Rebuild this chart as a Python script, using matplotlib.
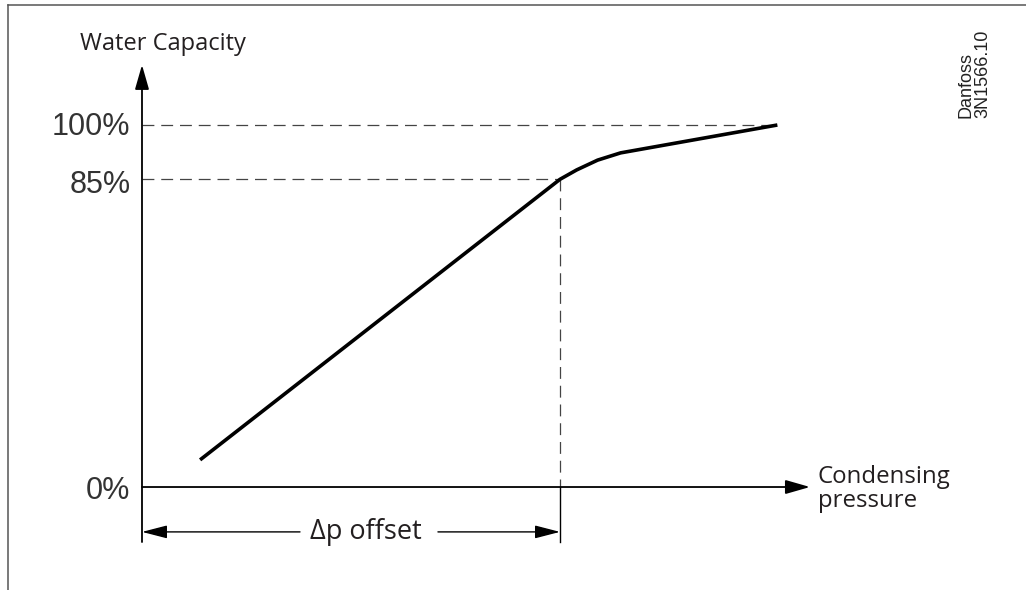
import matplotlib
matplotlib.use("Agg")
import matplotlib.pyplot as plt
from matplotlib.lines import Line2D

# curve data (x: pressure units, offset point = 100; y: water capacity %)
pressure = [13.9, 100, 104, 109, 114.5, 152]
capacity = [7.5, 85, 87.6, 90.3, 92.3, 100]

# reference levels
levels = [0, 85, 100]
level_labels = ["0%", "85%", "100%"]
offset_end = 100
axis_x_end = 159.8
axis_y_end = 116.6
dim_y = -12.4
axis_bottom = -15.2

fig = plt.figure(figsize=(10.26, 5.90), dpi=100)
ax = fig.add_axes([0, 0, 1, 1])
ax.set_xlim(-33.97, 211.48)
ax.set_ylim(-28.45, 134.53)
ax.axis("off")

txt = "#231f20"
sans = ["Open Sans", "DejaVu Sans"]

# frame (top and left edges)
fig.add_artist(Line2D([8/1026, 1], [1 - 5/590, 1 - 5/590], transform=fig.transFigure, color="#555555", lw=1.1))
fig.add_artist(Line2D([8/1026, 8/1026], [0, 1 - 5/590], transform=fig.transFigure, color="#555555", lw=1.1))

# axes with arrows
arrow_kw = dict(arrowstyle="-|>,head_length=15,head_width=4.3", color="black", lw=1.3,
                shrinkA=0, shrinkB=0, mutation_scale=1)
ax.annotate("", xy=(0, axis_y_end), xytext=(0, axis_bottom), arrowprops=arrow_kw)
ax.annotate("", xy=(axis_x_end, 0), xytext=(0, 0), arrowprops=arrow_kw)

# dashed guide lines
dash = dict(color="#444444", lw=0.9, dashes=(9.5, 5.5))
ax.plot([0, pressure[-1]], [levels[2], levels[2]], **dash)
ax.plot([0, offset_end], [levels[1], levels[1]], **dash)
ax.plot([offset_end, offset_end], [levels[1], 0], **dash)
ax.plot([offset_end, offset_end], [0, axis_bottom], color="black", lw=1.0)

# characteristic curve
ax.plot(pressure, capacity, color="black", lw=2.6, solid_capstyle="butt", solid_joinstyle="round")

# level labels
for lv, lab, base in zip(levels, level_labels, [-3.3, 81.2, 97.2]):
    ax.text(-2.8, base, lab, ha="right", va="baseline", fontsize=22,
            family=["Liberation Sans", "DejaVu Sans"], color="#333333")

# dimension line for offset
dim_kw = dict(arrowstyle="-|>,head_length=15.5,head_width=4", color="black", lw=1.0,
              shrinkA=0, shrinkB=0, mutation_scale=1)
ax.annotate("", xy=(0, dim_y), xytext=(37.8, dim_y), arrowprops=dim_kw)
ax.annotate("", xy=(offset_end, dim_y), xytext=(70.8, dim_y), arrowprops=dim_kw)
ax.text(40.2, -14.4, "Δp offset", ha="left", va="baseline", fontsize=19.5, family=sans, color=txt)

# axis titles
ax.text(-14.8, 120.7, "Water Capacity", ha="left", va="baseline", fontsize=17, family=sans, color=txt)
ax.text(161.7, 1.1, "Condensing", ha="left", va="baseline", fontsize=17.3, family=sans, color=txt)
ax.text(161.7, -5.5, "pressure", ha="left", va="baseline", fontsize=17.3, family=sans, color=txt)

# drawing reference
fig.text(958/1026, 1 - 118/590, "Danfoss\n3N1566.10", rotation=90, ha="left", va="bottom",
         multialignment="left", fontsize=13, family=["Liberation Sans", "DejaVu Sans"],
         color="#222222", linespacing=0.95)

fig.savefig("out.png", dpi=100)
